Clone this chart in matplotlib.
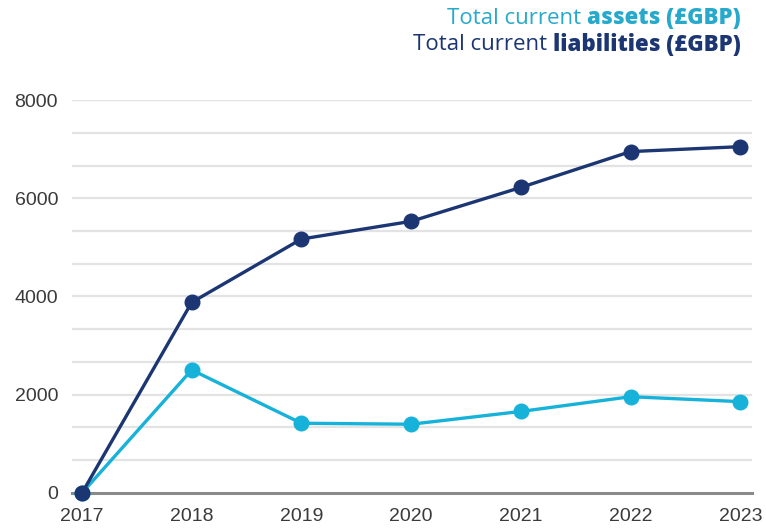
import matplotlib
matplotlib.use("Agg")
import matplotlib.pyplot as plt
import numpy as np

years = [2017, 2018, 2019, 2020, 2021, 2022, 2023]
assets = [0, 2505, 1420, 1400, 1660, 1960, 1860]
liabilities = [0, 3880, 5170, 5530, 6220, 6950, 7050]
yticks = [0, 2000, 4000, 6000, 8000]

navy = "#1b3672"
cyan = "#17b2d9"

fig = plt.figure(figsize=(7.66, 5.28), dpi=100)
ax = fig.add_axes([0.094, 0.0663, 0.888, 0.7443])

ax.set_xlim(2016.909, 2023.109)
ax.set_ylim(0, 8000)

# horizontal grid every third of a major tick
for g in np.arange(2000 / 3, 8001, 2000 / 3):
    ax.axhline(g, color="#e3e3e3", lw=1.6, zorder=0)
ax.axhline(8000, color="#e3e3e3", lw=1.6, zorder=0)

ax.plot(years, assets, color=cyan, lw=2.4, marker="o", ms=10.5,
        zorder=3, clip_on=False)
ax.plot(years, liabilities, color=navy, lw=2.4, marker="o", ms=10.5,
        zorder=4, clip_on=False)

for s in ["top", "right", "left"]:
    ax.spines[s].set_visible(False)
ax.spines["bottom"].set_color("#8a8a8a")
ax.spines["bottom"].set_linewidth(2.2)
ax.spines["bottom"].set_zorder(2)

ax.set_yticks(yticks)
ax.set_yticklabels([str(v) for v in yticks])
ax.set_xticks(years)
ax.set_xticklabels([str(y) for y in years])
ax.tick_params(axis="both", length=0, labelsize=14, labelcolor="#3a3a3a",
               labelfontfamily="Liberation Sans")
ax.tick_params(axis="y", pad=10)
ax.tick_params(axis="x", pad=11)

# legend text, right aligned above the plot
def legend_line(y, plain, bold, color):
    t1 = fig.text(0.967, y, plain + " ", ha="right", va="center", color=color,
                  fontsize=16, family="Open Sans")
    fig.canvas.draw()
    r = fig.canvas.get_renderer()
    tb = fig.text(0.967, y, bold, ha="right", va="center", color=color,
                  fontsize=16, family="Open Sans", fontweight="heavy")
    w = tb.get_window_extent(r).width / fig.bbox.width
    t1.set_x(0.967 - w)

legend_line(1 - 18 / 528, "Total current", "assets (£GBP)", "#27a9cc")
legend_line(1 - 45 / 528, "Total current", "liabilities (£GBP)", navy)

fig.savefig("out.png", dpi=100)
